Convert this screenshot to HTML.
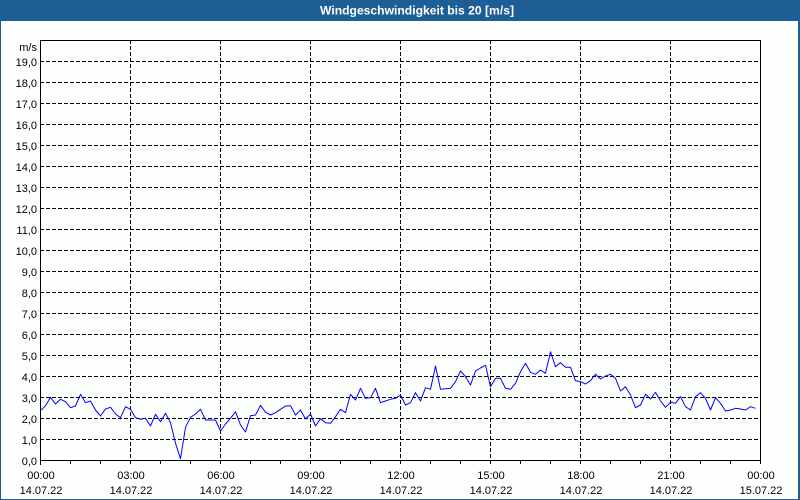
<!DOCTYPE html>
<html>
<head>
<meta charset="utf-8">
<style>
html,body{margin:0;padding:0;background:#fdfffd;}
svg{display:block;}
text{font-family:"Liberation Sans",Arial,sans-serif;}
</style>
</head>
<body>
<svg width="800" height="500" viewBox="0 0 800 500" xmlns="http://www.w3.org/2000/svg">
  <rect x="0" y="0" width="800" height="500" fill="#fdfffd"/>
  <!-- frame / title bar -->
  <rect x="0" y="0" width="800" height="21" fill="#1d5e95"/>
  <rect x="0" y="0" width="1" height="500" fill="#1d5e95"/>
  <rect x="798" y="0" width="2" height="500" fill="#1d5e95"/>
  <rect x="0" y="499" width="800" height="1" fill="#1d5e95"/>
  <text x="320" y="14.5" font-size="11.5" font-weight="bold" fill="#ffffff" textLength="194" lengthAdjust="spacingAndGlyphs">Windgeschwindigkeit bis 20 [m/s]</text>

  <!-- horizontal dashed grid -->
  <g stroke="#000" stroke-width="1" stroke-dasharray="4 2" shape-rendering="crispEdges">
    <line x1="40" y1="439.5" x2="760" y2="439.5"/>
    <line x1="40" y1="418.5" x2="760" y2="418.5"/>
    <line x1="40" y1="397.5" x2="760" y2="397.5"/>
    <line x1="40" y1="376.5" x2="760" y2="376.5"/>
    <line x1="40" y1="355.5" x2="760" y2="355.5"/>
    <line x1="40" y1="334.5" x2="760" y2="334.5"/>
    <line x1="40" y1="313.5" x2="760" y2="313.5"/>
    <line x1="40" y1="292.5" x2="760" y2="292.5"/>
    <line x1="40" y1="271.5" x2="760" y2="271.5"/>
    <line x1="40" y1="250.5" x2="760" y2="250.5"/>
    <line x1="40" y1="229.5" x2="760" y2="229.5"/>
    <line x1="40" y1="208.5" x2="760" y2="208.5"/>
    <line x1="40" y1="187.5" x2="760" y2="187.5"/>
    <line x1="40" y1="166.5" x2="760" y2="166.5"/>
    <line x1="40" y1="145.5" x2="760" y2="145.5"/>
    <line x1="40" y1="124.5" x2="760" y2="124.5"/>
    <line x1="40" y1="103.5" x2="760" y2="103.5"/>
    <line x1="40" y1="82.5" x2="760" y2="82.5"/>
    <line x1="40" y1="61.5" x2="760" y2="61.5"/>
  </g>
  <!-- vertical dashed grid -->
  <g stroke="#000" stroke-width="1" stroke-dasharray="4 2" shape-rendering="crispEdges">
    <line x1="130.5" y1="40" x2="130.5" y2="460"/>
    <line x1="220.5" y1="40" x2="220.5" y2="460"/>
    <line x1="310.5" y1="40" x2="310.5" y2="460"/>
    <line x1="400.5" y1="40" x2="400.5" y2="460"/>
    <line x1="490.5" y1="40" x2="490.5" y2="460"/>
    <line x1="580.5" y1="40" x2="580.5" y2="460"/>
    <line x1="670.5" y1="40" x2="670.5" y2="460"/>
  </g>

  <!-- data -->
  <polyline fill="none" stroke="#0000ff" stroke-width="1" stroke-linejoin="round"
    points="40.5,410.7 45.5,405.7 50.5,397.3 55.5,404 60.5,399.3 65.5,401.7 70.5,407.7 75.5,406 80.5,394.3 85.5,402.7 90.5,401 95.5,410 100.5,416 105.5,409 110.5,407.3 115.5,414 120.5,417.7 125.5,406.7 130.5,409.3 135.5,417.7 140.5,419.3 145.5,418.3 150.5,426 155.5,414.3 160.5,421.7 165.5,413.3 170.5,422.7 175.5,443.3 180.5,458.7 185.5,427.3 190.5,417.3 195.5,414 200.5,409.3 205.5,420 210.5,420 215.5,420 220.5,431 225.5,424 230.5,418.3 235.5,411.7 240.5,425 245.5,432 250.5,415.7 255.5,415 260.5,405.3 265.5,412.3 270.5,415 275.5,412.7 280.5,409.3 285.5,406 290.5,405.7 295.5,415 300.5,410 305.5,419 310.5,414 315.5,426 320.5,418.7 325.5,422.7 330.5,423.3 335.5,416.7 340.5,409.3 345.5,412.7 350.5,394.3 355.5,400 360.5,388.3 365.5,398.3 370.5,397.7 375.5,388.3 380.5,402.7 385.5,401 390.5,399.3 395.5,398.3 400.5,395 405.5,405 410.5,402.7 415.5,392.7 420.5,401 425.5,387.7 430.5,389.3 435.5,366 440.5,389.3 445.5,388.7 450.5,388.3 455.5,381.7 460.5,371 465.5,376.7 470.5,385 475.5,371 480.5,368 485.5,365.3 490.5,386.7 495.5,378.3 500.5,378.3 505.5,388.3 510.5,389.3 515.5,383.3 520.5,371.7 525.5,363.3 530.5,372.3 535.5,374.3 540.5,370 545.5,373.3 550.5,351.7 555.5,366.7 560.5,362.7 565.5,367.3 570.5,367.3 575.5,380.7 580.5,381.7 585.5,384 590.5,380.7 595.5,374.3 600.5,379 605.5,376 610.5,374.3 615.5,378.3 620.5,391 625.5,386.7 630.5,395 635.5,407.7 640.5,405 645.5,394.3 650.5,399 655.5,392.3 660.5,401 665.5,407.3 670.5,402.3 675.5,403.3 680.5,396.7 685.5,406.7 690.5,410 695.5,396.7 700.5,392.7 705.5,398.3 710.5,410 715.5,397.7 720.5,403.3 725.5,411 730.5,410 735.5,408.3 740.5,409 745.5,410 750.5,406.7 755.5,408.3"/>

  <!-- solid plot frame -->
  <g stroke="#000" stroke-width="1" shape-rendering="crispEdges" fill="none">
    <rect x="40.5" y="40.5" width="720" height="420"/>
  </g>
  <!-- x ticks -->
  <g stroke="#000" stroke-width="1" shape-rendering="crispEdges">
    <line x1="40.5" y1="460" x2="40.5" y2="465"/>
    <line x1="70.5" y1="460" x2="70.5" y2="464"/>
    <line x1="100.5" y1="460" x2="100.5" y2="464"/>
    <line x1="130.5" y1="460" x2="130.5" y2="464"/>
    <line x1="160.5" y1="460" x2="160.5" y2="464"/>
    <line x1="190.5" y1="460" x2="190.5" y2="464"/>
    <line x1="220.5" y1="460" x2="220.5" y2="464"/>
    <line x1="250.5" y1="460" x2="250.5" y2="464"/>
    <line x1="280.5" y1="460" x2="280.5" y2="464"/>
    <line x1="310.5" y1="460" x2="310.5" y2="464"/>
    <line x1="340.5" y1="460" x2="340.5" y2="464"/>
    <line x1="370.5" y1="460" x2="370.5" y2="464"/>
    <line x1="400.5" y1="460" x2="400.5" y2="464"/>
    <line x1="430.5" y1="460" x2="430.5" y2="464"/>
    <line x1="460.5" y1="460" x2="460.5" y2="464"/>
    <line x1="490.5" y1="460" x2="490.5" y2="464"/>
    <line x1="520.5" y1="460" x2="520.5" y2="464"/>
    <line x1="550.5" y1="460" x2="550.5" y2="464"/>
    <line x1="580.5" y1="460" x2="580.5" y2="464"/>
    <line x1="610.5" y1="460" x2="610.5" y2="464"/>
    <line x1="640.5" y1="460" x2="640.5" y2="464"/>
    <line x1="670.5" y1="460" x2="670.5" y2="464"/>
    <line x1="700.5" y1="460" x2="700.5" y2="464"/>
    <line x1="730.5" y1="460" x2="730.5" y2="464"/>
    <line x1="760.5" y1="460" x2="760.5" y2="464"/>
  </g>

  <!-- y labels -->
  <g font-size="11" fill="#000" text-anchor="end">
    <text x="37" y="51">m/s</text>
    <text x="37" y="66">19,0</text>
    <text x="37" y="87">18,0</text>
    <text x="37" y="108">17,0</text>
    <text x="37" y="129">16,0</text>
    <text x="37" y="150">15,0</text>
    <text x="37" y="171">14,0</text>
    <text x="37" y="192">13,0</text>
    <text x="37" y="213">12,0</text>
    <text x="37" y="234">11,0</text>
    <text x="37" y="255">10,0</text>
    <text x="37" y="276">9,0</text>
    <text x="37" y="297">8,0</text>
    <text x="37" y="318">7,0</text>
    <text x="37" y="339">6,0</text>
    <text x="37" y="360">5,0</text>
    <text x="37" y="381">4,0</text>
    <text x="37" y="402">3,0</text>
    <text x="37" y="423">2,0</text>
    <text x="37" y="444">1,0</text>
    <text x="37" y="465">0,0</text>
  </g>

  <!-- x labels -->
  <g font-size="11" fill="#000" text-anchor="middle">
    <text x="41" y="479">00:00</text>
    <text x="41" y="494">14.07.22</text>
    <text x="131" y="479">03:00</text>
    <text x="131" y="494">14.07.22</text>
    <text x="221" y="479">06:00</text>
    <text x="221" y="494">14.07.22</text>
    <text x="311" y="479">09:00</text>
    <text x="311" y="494">14.07.22</text>
    <text x="401" y="479">12:00</text>
    <text x="401" y="494">14.07.22</text>
    <text x="491" y="479">15:00</text>
    <text x="491" y="494">14.07.22</text>
    <text x="581" y="479">18:00</text>
    <text x="581" y="494">14.07.22</text>
    <text x="671" y="479">21:00</text>
    <text x="671" y="494">14.07.22</text>
    <text x="761" y="479">00:00</text>
    <text x="761" y="494">15.07.22</text>
  </g>
</svg>
</body>
</html>
